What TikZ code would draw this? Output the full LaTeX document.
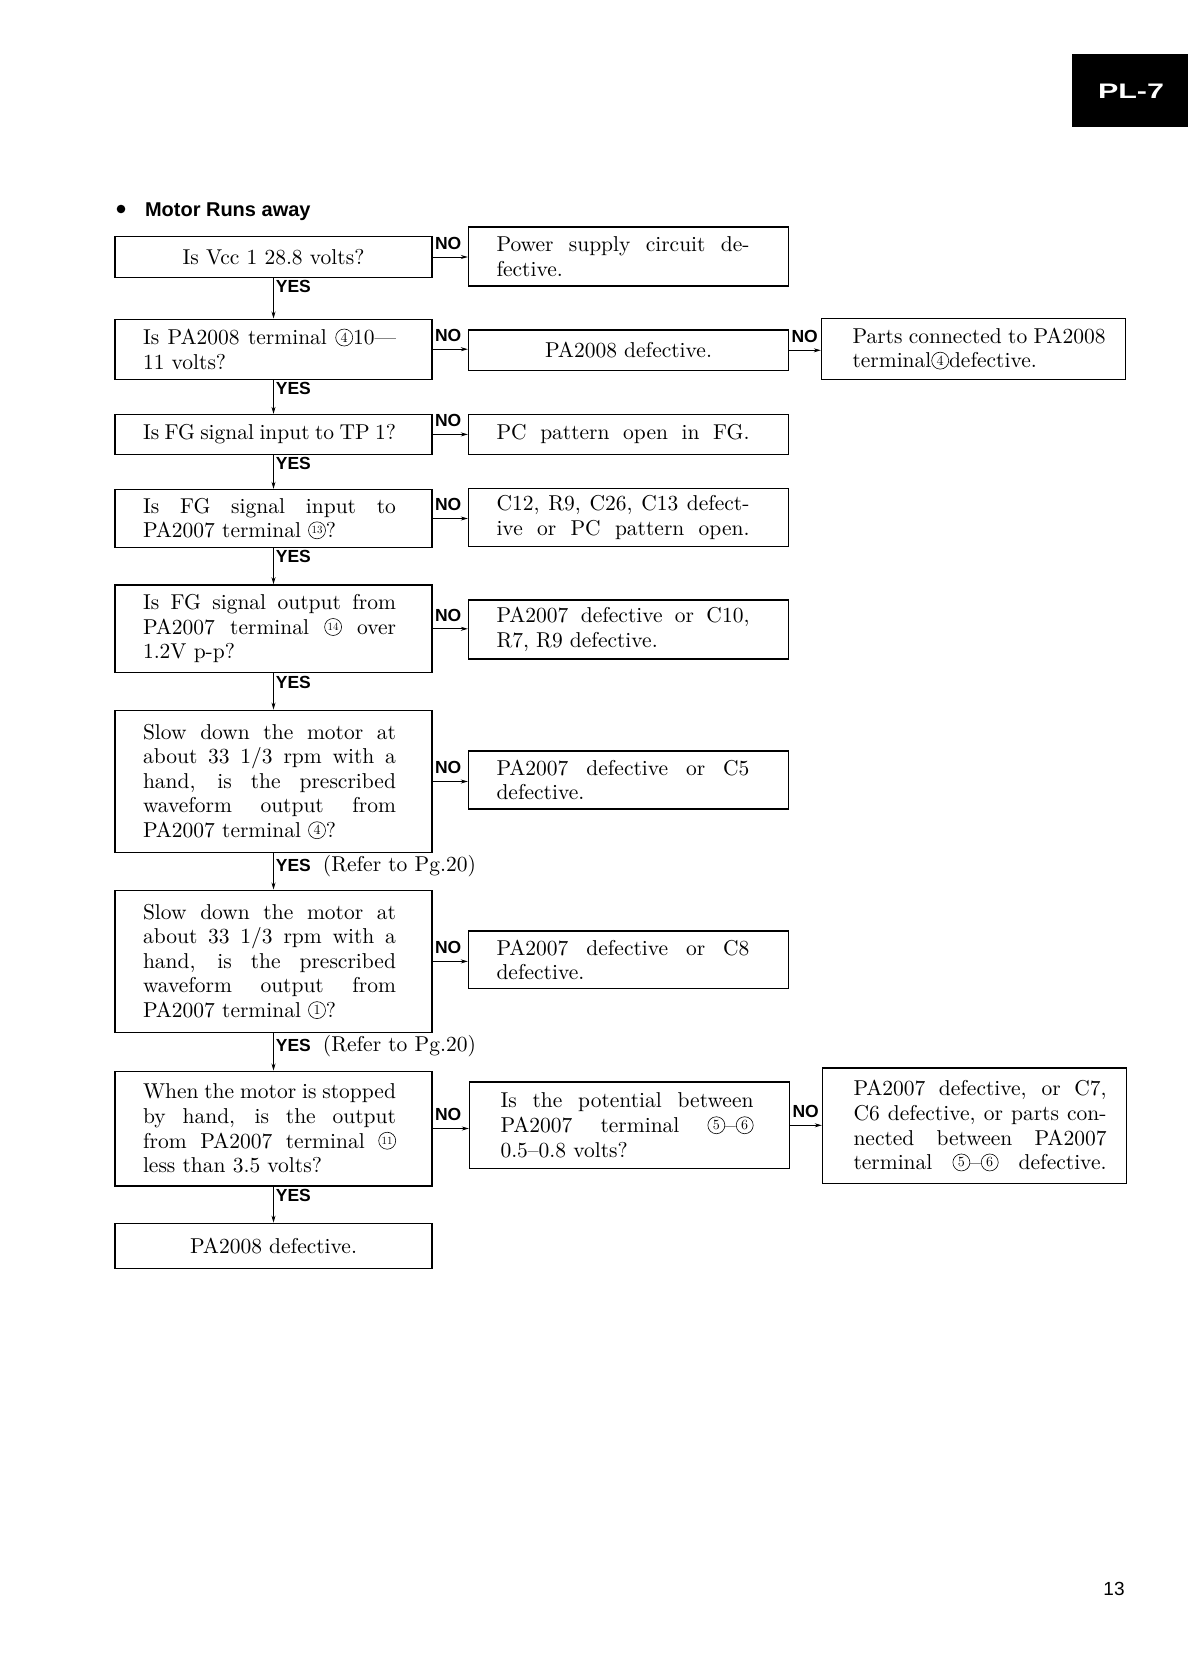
\documentclass[tikz,border=0pt]{standalone}
\usepackage{fontspec}
\setmainfont{lmroman10-regular.otf}[BoldFont=lmroman10-bold.otf,ItalicFont=lmroman10-italic.otf]
\setsansfont{Liberation Sans}
\newfontfamily\tabfont[FakeStretch=1.45]{Liberation Sans}
\usetikzlibrary{arrows.meta}
\newcommand{\fl}[1]{\leavevmode\hbox to 253pt{\spaceskip=.333em plus 1fil minus .1em\relax #1}}
\newcommand{\cn}[2][14]{\tikz[baseline={([yshift=1.5pt]cc.south)}]\node[draw,circle,line width=.6pt,inner sep=0pt,minimum size=17pt,font=\fontsize{#1}{#1}\selectfont] (cc) {#2};}
\tikzset{
  box/.style={draw,line width=1.4pt,inner xsep=28pt,inner ysep=4pt,align=left,font=\fontsize{21.5}{24.6}\selectfont},
  lbox/.style={box,text width=261pt},
  mbox/.style={box,text width=264pt},
  rbox/.style={box,inner xsep=20pt,text width=264pt},
  yes/.style={anchor=north west,inner sep=2pt,font=\sffamily\bfseries\fontsize{17.5}{20}\selectfont},
  no/.style={anchor=south west,inner sep=2pt,yshift=5pt,font=\sffamily\bfseries\fontsize{17.5}{20}\selectfont}
}
\begin{document}
\begin{tikzpicture}[x=1pt,y=-1pt,line width=.8pt,>={Stealth[length=7pt,width=4pt]}]
\useasboundingbox (0,0) rectangle (1188,1680);
\fill (1072.3,53.6) rectangle (1188,127.5);
\node[text=white,font=\tabfont\bfseries\fontsize{21}{21}\selectfont] (tab) at (1131,91) {PL-7};
\fill (121,209) circle (4.3pt);
\node[anchor=base west,inner sep=0pt,font=\sffamily\bfseries\fontsize{20}{24}\selectfont] (title) at (144.6,216.4) {Motor Runs away};

\node[lbox,align=center,minimum height=40.7pt] (q1) at (273.5,257) {Is Vcc 1 28.8 volts?};
\node[lbox,minimum height=60pt] (q2) at (273.5,349.2) {\fl{Is PA2008 terminal \cn{4}10---}\\11 volts?};
\node[lbox,minimum height=39.7pt] (q3) at (273.5,434.4) {\fl{Is FG signal input to TP 1?}};
\node[lbox,minimum height=58pt] (q4) at (273.5,518.5) {\fl{Is FG signal input to}\\PA2007 terminal \cn[11]{13}?};
\node[lbox,minimum height=87.8pt] (q5) at (273.5,628.8) {\fl{Is FG signal output from}\\\fl{PA2007 terminal \cn[11]{14} over}\\1.2V p-p?};
\node[lbox,minimum height=142.5pt] (q6) at (273.5,781.5) {\fl{Slow down the motor at}\\\fl{about 33 1/3 rpm with a}\\\fl{hand, is the prescribed}\\\fl{waveform output from}\\PA2007 terminal \cn{4}?};
\node[lbox,minimum height=142.4pt] (q7) at (273.5,961.4) {\fl{Slow down the motor at}\\\fl{about 33 1/3 rpm with a}\\\fl{hand, is the prescribed}\\\fl{waveform output from}\\PA2007 terminal \cn{1}?};
\node[lbox,minimum height=114.6pt] (q8) at (273.5,1128.5) {\fl{When the motor is stopped}\\\fl{by hand, is the output}\\\fl{from PA2007 terminal \cn[11]{11}}\\less than 3.5 volts?};
\node[lbox,align=center,minimum height=45pt] (q9) at (273.5,1245.8) {PA2008 defective.};

\node[mbox,minimum height=59pt] (n1) at (628.5,256.6) {\fl{Power supply circuit de-}\\fective.};
\node[mbox,align=center,minimum height=40.7pt] (n2) at (628.5,350.3) {PA2008 defective.};
\node[mbox,minimum height=39.7pt] (n3) at (628.5,434.4) {\fl{PC pattern open in FG.}};
\node[mbox,minimum height=57.8pt] (n4) at (628.5,517.4) {\fl{C12, R9, C26, C13 defect-}\\\fl{ive or PC pattern open.}};
\node[mbox,minimum height=59pt] (n5) at (628.5,629.4) {\fl{PA2007 defective or C10,}\\R7, R9 defective.};
\node[mbox,minimum height=58pt] (n6) at (628.5,779.9) {\fl{PA2007 defective or C5}\\defective.};
\node[mbox,minimum height=57.8pt] (n7) at (628.5,959.8) {\fl{PA2007 defective or C8}\\defective.};
\node[mbox,minimum height=86.8pt] (n8) at (629.5,1125.3) {\hspace*{3pt}\fl{Is the potential between}\\\hspace*{3pt}\fl{PA2007 terminal \cn{5}--\cn{6}}\\\hspace*{3pt}0.5--0.8 volts?};

\node[rbox,minimum height=61pt] (r1) at (973.5,348.7) {\hspace*{11pt}\fl{Parts connected to PA2008}\\\hspace*{11pt}terminal\cn{4}defective.};
\node[rbox,minimum height=115.7pt] (r2) at (974.5,1125.9) {\hspace*{11pt}\fl{PA2007 defective, or C7,}\\\hspace*{11pt}\fl{C6 defective, or parts con-}\\\hspace*{11pt}\fl{nected between PA2007}\\\hspace*{11pt}\fl{terminal \cn{5}--\cn{6} defective.}};

\draw[->] (q1) -- (q2) node[yes,pos=0] {YES};
\draw[->] (q2) -- (q3) node[yes,pos=0] {YES};
\draw[->] (q3) -- (q4) node[yes,pos=0] {YES};
\draw[->] (q4) -- (q5) node[yes,pos=0] {YES};
\draw[->] (q5) -- (q6) node[yes,pos=0] {YES};
\draw[->] (q6) -- (q7) node[yes,pos=0] {YES\hspace{12pt}{\normalfont\fontsize{21.5}{24.6}\selectfont(Refer to Pg.20)}};
\draw[->] (q7) -- (q8) node[yes,pos=0] {YES\hspace{12pt}{\normalfont\fontsize{21.5}{24.6}\selectfont(Refer to Pg.20)}};
\draw[->] (q8) -- (q9) node[yes,pos=0] {YES};

\draw[->] (q1.east) -- (q1.east -| n1.west) node[no,pos=0] {NO};
\draw[->] (q2.east) -- (q2.east -| n2.west) node[no,pos=0] {NO};
\draw[->] (q3.east) -- (q3.east -| n3.west) node[no,pos=0] {NO};
\draw[->] (q4.east) -- (q4.east -| n4.west) node[no,pos=0] {NO};
\draw[->] (q5.east) -- (q5.east -| n5.west) node[no,pos=0] {NO};
\draw[->] (q6.east) -- (q6.east -| n6.west) node[no,pos=0] {NO};
\draw[->] (q7.east) -- (q7.east -| n7.west) node[no,pos=0] {NO};
\draw[->] (q8.east) -- (q8.east -| n8.west) node[no,pos=0] {NO};
\draw[->] (n2.east) -- (n2.east -| r1.west) node[no,pos=0] {NO};
\draw[->] (n8.east) -- (n8.east -| r2.west) node[no,pos=0] {NO};

\node[font=\sffamily\fontsize{19}{19}\selectfont] (pg) at (1114,1589) {13};
\end{tikzpicture}
\end{document}
